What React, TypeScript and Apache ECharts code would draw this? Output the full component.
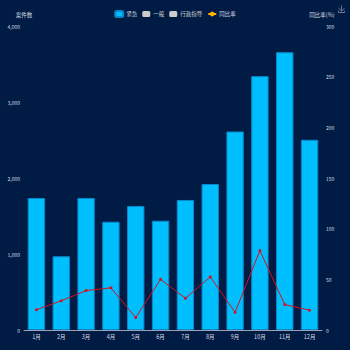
import React, { useEffect, useRef } from "react";
import * as echarts from "echarts";

const months = ["1月", "2月", "3月", "4月", "5月", "6月", "7月", "8月", "9月", "10月", "11月", "12月"];
const urgentCounts = [1737, 970, 1737, 1425, 1632, 1438, 1711, 1921, 2612, 3340, 3655, 2503];
const normalCounts: number[] = [];
const adminCounts: number[] = [];
const yoyRate = [20, 28.8, 38.9, 41.6, 12.3, 50, 31.3, 52.4, 17.5, 78.3, 25.1, 19.5];
const legendNames = ["紧急", "一般", "行政指导", "同比率"];

export default function App() {
  const ref = useRef<HTMLDivElement>(null);
  useEffect(() => {
    document.body.style.margin = "0";
    const chart = echarts.init(ref.current!, null, { renderer: "svg" });
    const labelColor = "#d8dce6";
    chart.setOption({
      animation: false,
      backgroundColor: "#011c44",
      textStyle: { fontFamily: "Noto Sans CJK SC" },
      toolbox: {
        right: 0,
        top: 0,
        padding: 3,
        itemSize: 7,
        iconStyle: { borderColor: "#6a7a95" },
        feature: { saveAsImage: { title: "" } },
      },
      legend: {
        top: 5,
        left: "center",
        itemWidth: 8,
        itemHeight: 6,
        itemGap: 5,
        inactiveColor: "#ccc",
        textStyle: { color: labelColor, fontSize: 5.5, padding: [0, 0, 0, -2] },
        data: [
          { name: legendNames[0] },
          { name: legendNames[1] },
          { name: legendNames[2] },
          { name: legendNames[3], itemStyle: { color: "#ffb000" }, lineStyle: { color: "#ffb000" } },
        ],
        selected: { [legendNames[1]]: false, [legendNames[2]]: false },
      },
      grid: { left: 24, right: 28, top: 26, bottom: 20, containLabel: false },
      xAxis: {
        type: "category",
        data: months,
        axisLine: { lineStyle: { color: "#9aa3b5" } },
        axisTick: { lineStyle: { color: "#9aa3b5" } },
        axisLabel: { color: labelColor, fontSize: 5.5, margin: 4 },
      },
      yAxis: [
        {
          type: "value",
          name: "案件数",
          nameTextStyle: { color: labelColor, fontSize: 5.5 },
          nameGap: 8,
          min: 0,
          max: 4000,
          interval: 1000,
          splitLine: { show: false },
          axisLine: { show: false },
          axisTick: { show: false },
          axisLabel: { color: labelColor, fontSize: 5, margin: 4 },
        },
        {
          type: "value",
          name: "同比率(%)",
          nameTextStyle: { color: labelColor, fontSize: 5.5 },
          nameGap: 8,
          min: 0,
          max: 300,
          interval: 50,
          splitLine: { show: false },
          axisLine: { show: false },
          axisTick: { show: false },
          axisLabel: { color: labelColor, fontSize: 5, margin: 4 },
        },
      ],
      series: [
        {
          name: legendNames[0],
          type: "bar",
          data: urgentCounts,
          barWidth: "70%",
          itemStyle: { color: "#00bfff", borderColor: "#0a86c8", borderWidth: 1 },
        },
        { name: legendNames[1], type: "bar", data: normalCounts, itemStyle: { color: "#ccc" } },
        { name: legendNames[2], type: "bar", data: adminCounts, itemStyle: { color: "#ccc" } },
        {
          name: legendNames[3],
          type: "line",
          yAxisIndex: 1,
          data: yoyRate,
          symbol: "circle",
          symbolSize: 3,
          lineStyle: { color: "#d8101e", width: 1 },
          itemStyle: { color: "#d8101e" },
        },
      ],
    });
    return () => chart.dispose();
  }, []);
  return <div ref={ref} style={{ width: 350, height: 350, position: "absolute", left: 0, top: 0 }} />;
}
